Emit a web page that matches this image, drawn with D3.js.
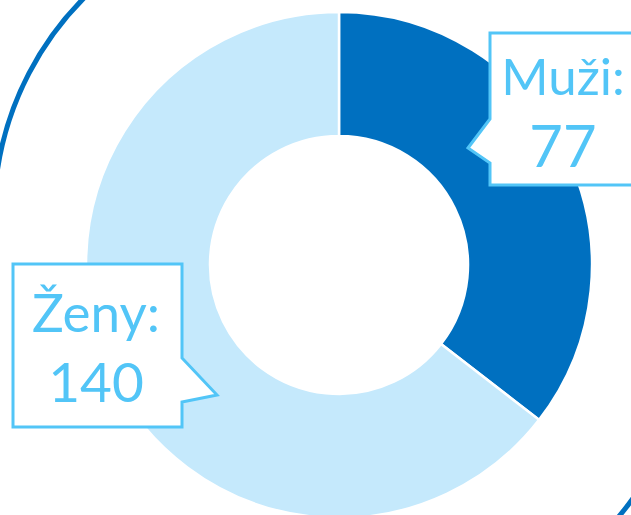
<!DOCTYPE html>
<html>
<head>
<meta charset="utf-8">
<script src="https://cdn.jsdelivr.net/npm/d3@7"></script>
<style>
  html, body { margin: 0; padding: 0; background: #fff; overflow: hidden; }
  svg { display: block; }
  text { font-family: Lato, "Noto Sans", sans-serif; }
</style>
</head>
<body>
<svg id="chart" width="631" height="515"></svg>
<script>
// data
var categories = ["Muži", "Ženy"];
var values = [77, 140];
var colors = ["#0070c0", "#c5e9fc"];

var labelCol = "#52c5f7";
var cx = 339, cy = 265;

var svg = d3.select("#chart");

// decorative outline pieces (top-left and bottom-right corners)
var deco = [
  {c: [303, 216], r: 309, a0: -85, a1: -40},
  {c: [375, 314], r: 317, a0: 110, a1: 145}
];
deco.forEach(function(d){
  var rad = Math.PI / 180;
  var a = d3.arc()
    .innerRadius(d.r - 2.5)
    .outerRadius(d.r + 2.5)
    .startAngle(d.a0 * rad)
    .endAngle(d.a1 * rad);
  svg.append("path")
    .attr("transform", "translate(" + d.c[0] + "," + d.c[1] + ")")
    .attr("d", a())
    .attr("fill", "#0070c0");
});

var pie = d3.pie().sort(null).value(function(d){ return d; });
var arc = d3.arc().innerRadius(129).outerRadius(253);

var gPie = svg.append("g")
  .attr("transform", "translate(" + cx + "," + cy + ")");

gPie.selectAll("path")
  .data(pie(values))
  .enter().append("path")
  .attr("d", arc)
  .attr("fill", function(d, i){ return colors[i]; })
  .attr("stroke", "#fff")
  .attr("stroke-width", 2.5);

// callout boxes (layout only)
var callouts = [
  {x: 490, y: 33, w: 152, h: 152, side: "left", p1: 86, p2: 130, tip: [468, 148],
    tx: 563, b1: 62, b2: 134, fs: 51, fs2: 58},
  {x: 13, y: 264, w: 169, h: 163, side: "right", p1: 94, p2: 138, tip: [217, 395],
    tx: 96, b1: 68, b2: 138, fs: 53, fs2: 55}
];

function calloutPath(c){
  var x0 = c.x, y0 = c.y, x1 = c.x + c.w, y1 = c.y + c.h;
  var tx = c.tip[0], ty = c.tip[1];
  if(c.side === "left"){
    return "M" + x0 + "," + y0 + "L" + x1 + "," + y0 + "L" + x1 + "," + y1 +
      "L" + x0 + "," + y1 + "L" + x0 + "," + (y0 + c.p2) +
      "L" + tx + "," + ty + "L" + x0 + "," + (y0 + c.p1) + "Z";
  }
  return "M" + x0 + "," + y0 + "L" + x1 + "," + y0 + "L" + x1 + "," + (y0 + c.p1) +
    "L" + tx + "," + ty + "L" + x1 + "," + (y0 + c.p2) +
    "L" + x1 + "," + y1 + "L" + x0 + "," + y1 + "Z";
}

var gLab = svg.append("g");

callouts.forEach(function(c, i){
  gLab.append("path")
    .attr("d", calloutPath(c))
    .attr("fill", "#fff")
    .attr("stroke", labelCol)
    .attr("stroke-width", 3);

  gLab.append("text")
    .attr("x", c.tx)
    .attr("y", c.y + c.b1)
    .attr("text-anchor", "middle")
    .attr("font-size", c.fs)
    .attr("fill", labelCol)
    .text(categories[i] + ":");
  gLab.append("text")
    .attr("x", c.tx)
    .attr("y", c.y + c.b2)
    .attr("text-anchor", "middle")
    .attr("font-size", c.fs2)
    .attr("fill", labelCol)
    .text(values[i]);
});
</script>
</body>
</html>
